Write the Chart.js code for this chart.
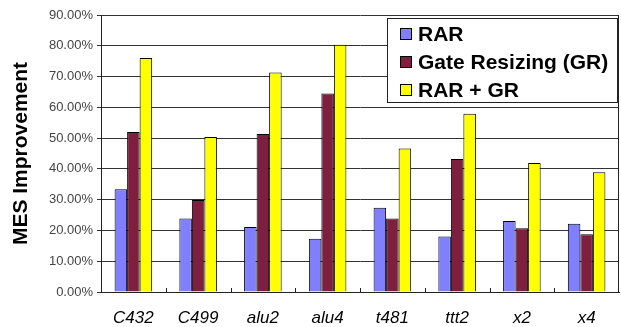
<!DOCTYPE html>
<html>
<head>
<meta charset="utf-8">
<script src="https://cdn.jsdelivr.net/npm/chart.js@4/dist/chart.umd.min.js"></script>
<style>
    body { margin: 0; background: #fff; }
    #wrap { position: relative; width: 621px; height: 327px; }
    #legend {
        position: absolute; left: 387px; top: 18px; width: 229px; height: 83px;
        border: 1px solid #222; background: #fff;
        font-family: Arial, "Liberation Sans", sans-serif; font-weight: bold; font-size: 21px;
    }
    #legend div { position: absolute; left: 12px; height: 28px; line-height: 28px; white-space: nowrap; }
    #legend span { display: inline-block; width: 10px; height: 10px; border: 1px solid #000; margin-right: 6px; vertical-align: 1px; }
</style>
</head>
<body>
<div id="wrap">
    <canvas id="chart" width="621" height="327"></canvas>
    <div id="legend"></div>
</div>
<script>
    var circuits = ["C432", "C499", "alu2", "alu4", "t481", "ttt2", "x2", "x4"];
    var rar = [33.4, 23.9, 21.1, 17.3, 27.4, 18.0, 23.1, 22.2];
    var gateResizing = [52.0, 29.9, 51.3, 64.5, 23.9, 43.2, 20.7, 18.8];
    var rarPlusGr = [76.0, 50.4, 71.3, 80.3, 46.6, 57.9, 41.9, 38.9];

    var seriesNames = ["RAR", "Gate Resizing (GR)", "RAR + GR"];
    var colors = ["#7f7fff", "#7f1f40", "#ffff00"];

    var fontFamily = "Arial, 'Liberation Sans', sans-serif";

    // small inward tick marks at category boundaries + right edge of plot
    var frame = {
        id: "frame",
        afterDraw: function (chart) {
            var ctx = chart.ctx;
            var area = chart.chartArea;
            var x = chart.scales.x;
            var step = (area.right - area.left) / circuits.length;
            ctx.save();
            ctx.strokeStyle = "#222";
            ctx.lineWidth = 1;
            ctx.beginPath();
            for (var i = 1; i < circuits.length; i++) {
                var px = Math.round(x.getPixelForValue(i) - step / 2) + 0.5;
                ctx.moveTo(px, area.bottom);
                ctx.lineTo(px, area.bottom - 4);
            }
            ctx.moveTo(Math.round(area.right) - 0.5, area.top);
            ctx.lineTo(Math.round(area.right) - 0.5, area.bottom);
            ctx.stroke();
            ctx.restore();
        }
    };

    var datasets = [rar, gateResizing, rarPlusGr].map(function (values, i) {
        return {
            label: seriesNames[i],
            data: values,
            backgroundColor: colors[i],
            borderColor: "#000",
            borderWidth: 1,
            categoryPercentage: 0.58,
            barPercentage: 1.0
        };
    });

    new Chart(document.getElementById("chart"), {
        type: "bar",
        data: { labels: circuits, datasets: datasets },
        plugins: [frame],
        options: {
            responsive: false,
            animation: false,
            layout: { padding: { top: 15, right: 2, left: 0, bottom: 0 } },
            plugins: { legend: { display: false }, tooltip: { enabled: false } },
            scales: {
                x: {
                    offset: true,
                    grid: { display: true, drawOnChartArea: false, drawTicks: false },
                    border: { display: true, color: "#222", width: 1 },
                    ticks: {
                        padding: 16,
                        color: "#000",
                        font: { family: fontFamily, size: 17, style: "italic" }
                    },
                    afterFit: function (scale) { scale.height = 35; }
                },
                y: {
                    min: 0,
                    max: 90,
                    ticks: {
                        stepSize: 10,
                        padding: 4,
                        color: "#444",
                        font: { family: fontFamily, size: 13 },
                        callback: function (v) { return v.toFixed(2) + "%"; }
                    },
                    grid: { color: "#333", lineWidth: 1, tickLength: 4 },
                    border: { display: true, color: "#222", width: 1 },
                    title: {
                        display: true,
                        text: "MES Improvement",
                        color: "#000",
                        padding: { top: 9, bottom: 0 },
                        font: { family: fontFamily, size: 21, weight: "bold" }
                    },
                    afterFit: function (scale) { scale.width = 101; }
                }
            }
        }
    });

    // legend as html, built from the series
    var legend = document.getElementById("legend");
    seriesNames.forEach(function (name, i) {
        var row = document.createElement("div");
        row.style.top = (1 + i * 28) + "px";
        row.innerHTML = '<span style="background:' + colors[i] + '"></span>' + name;
        legend.appendChild(row);
    });
</script>
</body>
</html>
